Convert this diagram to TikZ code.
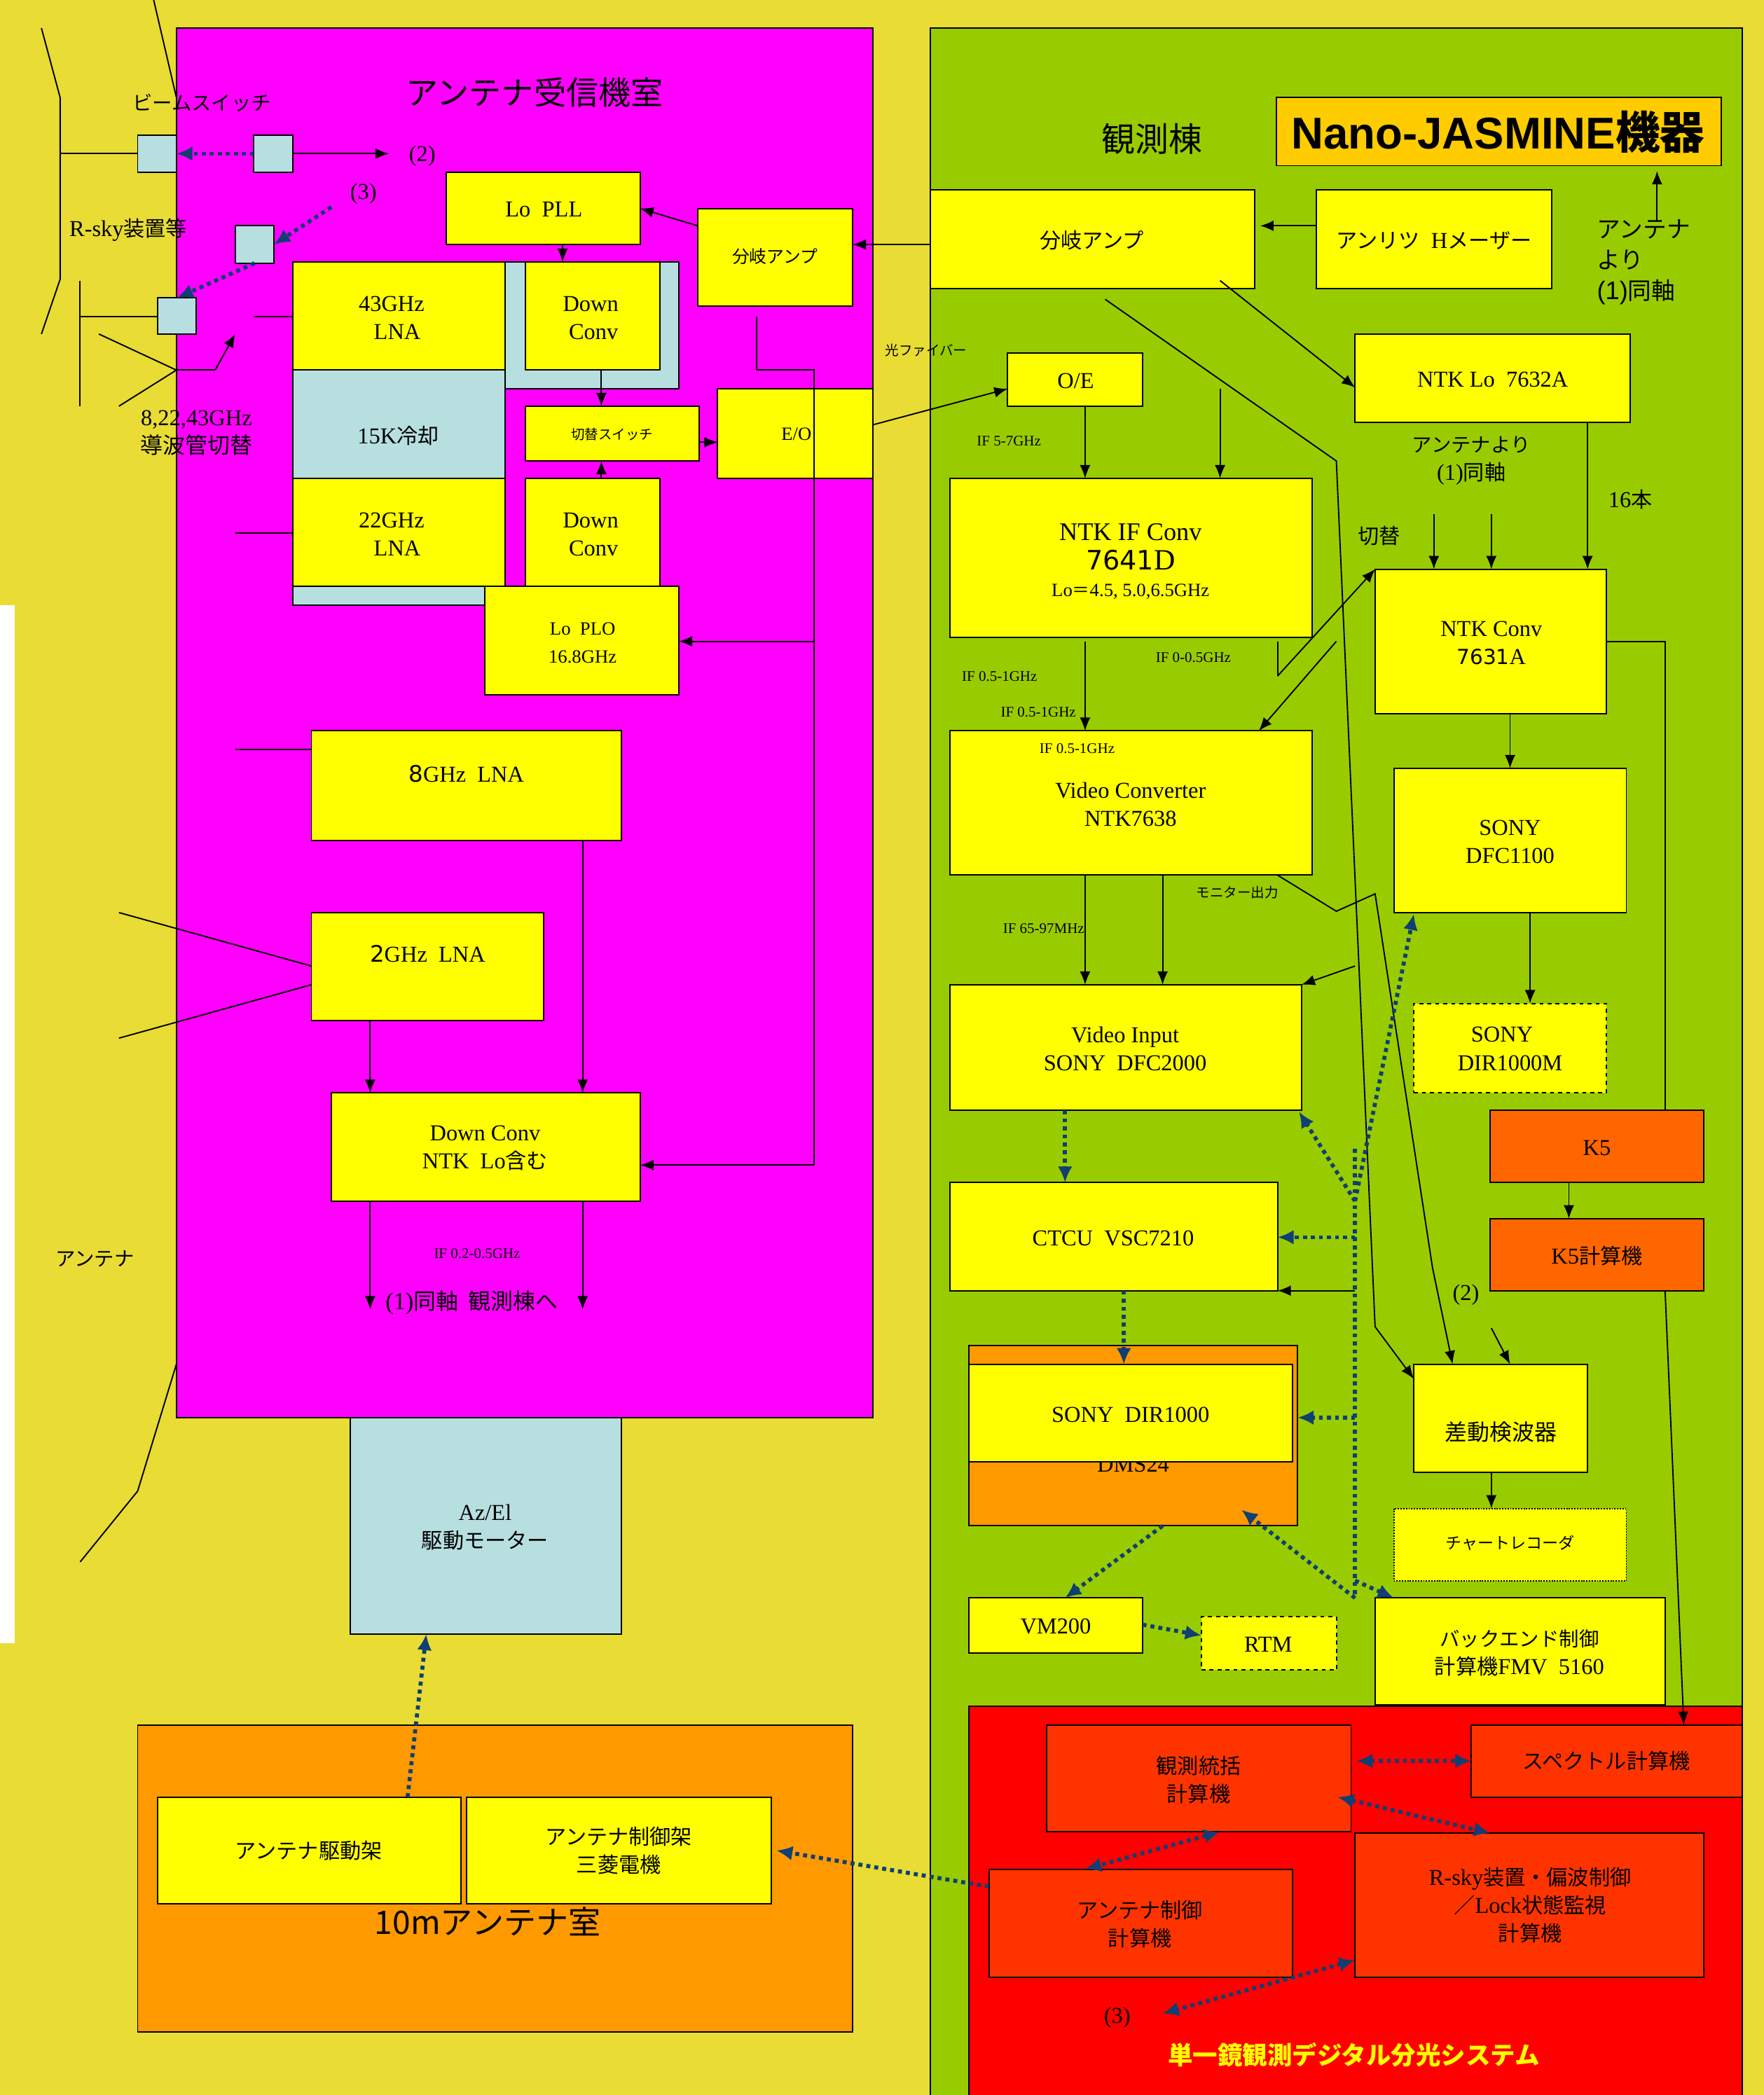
\documentclass[tikz,border=0pt]{standalone}
\usepackage{fontspec}
\usetikzlibrary{arrows.meta}
\setmainfont{Liberation Serif}
\setsansfont{Liberation Sans}
\newfontfamily\cjk[Scale=0.93]{Noto Sans CJK JP}
\newfontfamily\cjkfull{Noto Sans CJK JP}
\newfontfamily\dg{DejaVu Sans}
\newcommand\J[1]{{\cjk #1}}
\definecolor{bgy}{HTML}{E8DC35}
\definecolor{roomm}{HTML}{FF00FF}
\definecolor{roomg}{HTML}{99CC00}
\definecolor{yel}{HTML}{FFFF00}
\definecolor{ltb}{HTML}{B8DFE0}
\definecolor{org}{HTML}{FF9900}
\definecolor{nano}{HTML}{FFCC00}
\definecolor{k5c}{HTML}{FF6600}
\definecolor{redbg}{HTML}{FF0000}
\definecolor{redbx}{HTML}{FF3300}
\definecolor{dotb}{HTML}{0F3F73}
\newcommand\fs[2]{\fontsize{#1}{#2}\selectfont}
\tikzset{
 x=1pt,y=-1pt,
 box/.style={draw=black,line width=1pt,fill=yel,rectangle,inner sep=0pt,outer sep=0pt},
 txt/.style={inner sep=0pt,outer sep=0pt,align=center,font=\fs{17}{21}},
 small/.style={txt,font=\fs{11}{13}},
 conn/.style={draw=black,line width=1pt},
 arr/.style={conn,-{Latex[length=10pt,width=8pt]}},
 dots/.style={draw=dotb,line width=3pt,dash pattern=on 3pt off 3pt},
 dar/.style={dots,-{Latex[length=12pt,width=11pt,fill=dotb]}},
 ddar/.style={dots,{Latex[length=12pt,width=11pt,fill=dotb]}-{Latex[length=12pt,width=11pt,fill=dotb]}},
}
% box: [opts]{name}{x1}{y1}{x2}{y2}{text x}{text y}{text}
\newcommand\bx[9][]{%
 \node[box,#1,anchor=north west,minimum width={(#5-#3)*1pt},minimum height={(#6-#4)*1pt}] (#2) at (#3,#4) {};
 \node[txt] (#2-t) at (#7,#8) {#9};}
\newcommand\nb[6][]{%
 \node[box,#1,anchor=north west,minimum width={(#5-#3)*1pt},minimum height={(#6-#4)*1pt}] (#2) at (#3,#4) {};}
\newcommand\lb[5][txt]{\node[#1] (#2) at (#3,#4) {#5};}
% vertical connector at x between a.south and b.north
\newcommand\vc[4][arr]{\draw[#1] (#2.south -| #4,0) -- (#3.north -| #4,0);}
\begin{document}
\begin{tikzpicture}
\useasboundingbox (0,0) rectangle (1320,1568);
\fill[bgy] (0,0) rectangle (1320,1568);
\fill[white] (0,453) rectangle (11,1230);

% rooms
\nb[fill=roomm]{rx}{132}{21}{653}{1061}
\nb[fill=roomg]{obs}{696}{21}{1304}{1572}
\nb[fill=redbg]{dsp}{725}{1277}{1304}{1572}
\nb[fill=org]{r10}{103}{1291}{638}{1521}

% antenna outline
\draw[conn] (115,0) -- (132,73);
\draw[conn] (31,21) -- (45,73) -- (45,209) -- (31,250);
\draw[conn] (45,115) -- (103,115);
\draw[conn] (60,210) -- (60,304);
\draw[conn] (60,237) -- (118,237);
\draw[conn] (74,250) -- (132,277) -- (89,304);
\draw[conn] (132,1021) -- (103,1116) -- (60,1169);

\lb{t-title}{400}{69}{\fs{26}{30}\J{アンテナ受信機室}}
\lb{t-beam}{151}{77}{\fs{16}{18}\J{ビームスイッチ}}
\lb{t-rsky}{96}{172}{\fs{17}{20}R-sky\J{装置等}}
\lb{t-wg}{147}{324}{8,22,43GHz\\\fs{18}{21}\J{導波管切替}}
\lb{t-ant}{71}{942}{\fs{16}{18}\J{アンテナ}}
\lb{t-2a}{316}{117}{(2)}
\lb{t-3a}{272}{145}{(3)}

% beam switches
\nb[fill=ltb]{bs1}{103}{101}{132}{129}
\nb[fill=ltb]{bs2}{190}{101}{219}{129}
\nb[fill=ltb]{bs3}{176}{169}{205}{197}
\nb[fill=ltb]{bs4}{118}{223}{147}{250}

% cooled zone
\nb[fill=ltb]{cool}{219}{196}{378}{453}
\nb[fill=ltb]{coolb}{378}{196}{508}{291}
\bx[fill=ltb]{k15}{219}{277}{378}{358}{298}{326}{15K\J{冷却}}
\bx{lna43}{219}{196}{378}{277}{293}{238}{43GHz\\\ \ LNA}
\bx{lna22}{219}{358}{378}{439}{293}{400}{22GHz\\\ \ LNA}
\bx{dc1}{393}{196}{494}{277}{442}{238}{Down\\\ Conv}
\bx{dc2}{393}{358}{494}{439}{442}{400}{Down\\\ Conv}
\bx{lopll}{334}{129}{479}{183}{407}{157}{Lo\ \ PLL}
\bx{amp1}{522}{156}{638}{229}{580}{192}{\fs{14}{16}\J{分岐アンプ}}
\bx{sw}{393}{304}{523}{345}{458}{325}{\fs{11}{12}\J{切替スイッチ}}
\bx{eo}{537}{291}{653}{358}{596}{325}{\fs{14}{17}E/O}
\bx{plo}{363}{439}{508}{520}{436}{481}{\fs{14}{17}Lo\ \ PLO\\\fs{14}{17}16.8GHz}
\bx{lna8}{233}{547}{465}{629}{349}{579}{{\dg 8}GHz\ \ LNA}
\bx{lna2}{233}{683}{407}{764}{320}{714}{{\dg 2}GHz\ \ LNA}
\bx{dcn}{248}{818}{479}{899}{363}{859}{Down Conv\\NTK\ \ Lo\J{含む}}
\lb[small]{t-if02}{357}{938}{IF 0.2-0.5GHz}
\lb{t-to}{353}{975}{\fs{18}{20}(1)\J{同軸\ \ 観測棟へ}}
\bx[fill=ltb]{azel}{262}{1061}{465}{1223}{363}{1143}{Az/El\\\J{駆動モーター}}

% 10m room
\lb{t-10m}{365}{1438}{\fs{26}{28}\J{10mアンテナ室}}
\bx{drv}{118}{1345}{345}{1425}{231}{1385}{\J{アンテナ駆動架}}
\bx{ctl}{349}{1345}{577}{1425}{463}{1385}{\J{アンテナ制御架}\\\J{三菱電機}}

% observation building
\lb{t-obs}{862}{104}{\fs{27}{28}\J{観測棟}}
\bx[fill=nano]{nj}{955}{73}{1288}{124}{1121}{99}{\fs{33.3}{40}\sffamily\bfseries Nano-JASMINE{\cjkfull\bfseries 機器}}
\bx{amp2}{696}{142}{939}{216}{817}{180}{\J{分岐アンプ}}
\bx{hm}{985}{142}{1161}{216}{1073}{180}{\J{アンリツ}\ \ H\J{メーザー}}
\node[txt,align=left,font=\fs{19}{23}] (t-ant3) at (1230,196) {\J{アンテナ}\\\J{より}\\\sffamily(1)\J{同軸}};
\lb[small]{t-fib}{693}{262}{\J{光ファイバー}}
\bx{oe}{754}{264}{855}{304}{805}{285}{O/E}
\bx{lo32}{1014}{250}{1220}{316}{1117}{284}{NTK Lo\ \ 7632A}
\lb[small]{t-if5}{755}{330}{IF 5-7GHz}
\lb{t-ant2}{1101}{345}{\fs{16}{21}\J{アンテナより}\\(1)\J{同軸}}
\lb{t-16}{1220}{374}{16\J{本}}
\lb{t-sw}{1032}{401}{\J{切替}}
\bx{ifc}{711}{358}{982}{477}{846}{420}{\fs{19}{23}NTK IF Conv\\[1pt]{\dg\fs{20}{23}7641}\fs{22}{23}D\hspace*{12pt}\\[-1pt]\fs{14}{17}Lo\J{＝}4.5, 5.0,6.5GHz}
\bx{c31}{1029}{426}{1202}{534}{1116}{481}{NTK Conv\\{\dg\fs{15.5}{21}7631}A}
\lb[small]{t-if051}{748}{506}{IF 0.5-1GHz}
\lb[small]{t-if052}{777}{533}{IF 0.5-1GHz}
\lb[small]{t-if00}{893}{492}{IF 0-0.5GHz}
\bx{vc}{711}{547}{982}{655}{846}{602}{Video Converter\\NTK7638}
\lb[small]{t-if053}{806}{560}{IF 0.5-1GHz}
\bx{dfc}{1043}{575}{1217}{683}{1130}{630}{SONY\\DFC1100}
\lb[small]{t-mon}{926}{668}{\J{モニター出力}}
\lb[small]{t-if65}{781}{695}{IF 65-97MHz}
\bx{vi}{711}{737}{974}{831}{842}{785}{Video Input\\SONY\ \ DFC2000}
\bx[dashed]{dirm}{1058}{751}{1202}{818}{1130}{785}{SONY\hspace*{12pt}\\DIR1000M}
\bx[fill=k5c]{k5}{1115}{831}{1275}{885}{1195}{859}{K5}
\bx[fill=k5c]{k5c}{1115}{912}{1275}{966}{1195}{940}{K5\J{計算機}}
\bx{ctcu}{711}{885}{956}{966}{833}{927}{CTCU\ \ VSC7210}
\lb{t-2b}{1097}{969}{(2)}
\nb[fill=org]{dms}{725}{1007}{971}{1142}
\lb{t-dms}{848}{1096}{DMS24}
\bx{dir}{725}{1021}{967}{1094}{846}{1059}{SONY\ \ DIR1000}
\bx{sad}{1058}{1021}{1188}{1102}{1123}{1072}{\fs{18}{21}\J{差動検波器}}
\bx[densely dotted]{chart}{1043}{1129}{1217}{1183}{1130}{1155}{\fs{13}{16}\J{チャートレコーダ}}
\bx{vm}{725}{1196}{855}{1237}{790}{1217}{VM200}
\bx[dashed]{rtm}{899}{1210}{1000}{1250}{949}{1231}{RTM}
\bx{be}{1029}{1196}{1246}{1276}{1137}{1237}{\fs{16}{21}\J{バックエンド制御}\\\J{計算機}FMV\ \ 5160}
\bx[fill=redbx]{ctr}{783}{1291}{1011}{1371}{897}{1332}{\J{観測統括}\\\J{計算機}}
\bx[fill=redbx]{spc}{1101}{1291}{1304}{1345}{1202}{1318}{\J{スペクトル計算機}}
\bx[fill=redbx]{actl}{740}{1399}{967}{1480}{853}{1440}{\J{アンテナ制御}\\\J{計算機}}
\bx[fill=redbx]{rs}{1014}{1372}{1275}{1480}{1145}{1426}{R-sky\J{装置・偏波制御}\\\J{／}Lock\J{状態監視}\\\J{計算機}}
\lb{t-3b}{836}{1510}{(3)}
\lb{t-sys}{1013}{1538}{\fs{20}{24}\color{yel}{\cjk\bfseries 単一鏡観測デジタル分光システム}}

% free connector ends
\coordinate (ep2) at (291,115);
\coordinate (ep3) at (248,155);
\coordinate (wgup) at (176,250);
\coordinate (wgj) at (132,277);
\coordinate (wgk) at (161,277);
\coordinate (in43) at (190,237);
\coordinate (in22) at (176,399);
\coordinate (in8) at (176,561);
\coordinate (h1) at (89,683);
\coordinate (h2) at (89,777);
\coordinate (amp1a) at (566,237);
\coordinate (amp1b) at (566,277);
\coordinate (trunktop) at (609,277);
\coordinate (trunkplo) at (609,480);
\coordinate (trunkdc) at (609,872);
\coordinate (out1) at (277,980);
\coordinate (out2) at (436,980);

% solid connectors: antenna room
\draw[arr] (bs2.east) -- (ep2);
\draw[conn] (wgj) -- (wgk); \draw[arr] (wgk) -- (wgup);
\draw[conn] (in43) -- (lna43.west |- in43);
\draw[conn] (in22) -- (lna22.west |- in22);
\draw[conn] (in8) -- (lna8.west |- in8);
\draw[conn] (h1) -- (lna2.west |- 0,723);
\draw[conn] (h2) -- (lna2.west |- 0,737);
\draw[arr] (amp1.west |- 0,169) -- (lopll.east |- 0,156);
\vc{lopll}{dc1}{421}
\vc{dc1}{sw}{450}
\draw[arr] (dc2.north -| 450,0) -- (sw.south -| 450,0);
\draw[arr] (sw.east |- 0,331) -- (eo.west |- 0,331);
\draw[arr] (amp2.west |- 0,183) -- (amp1.east |- 0,183);
\draw[conn] (amp1a) -- (amp1b) -- (trunktop) -- (trunkdc);
\draw[arr] (trunkplo) -- (plo.east |- trunkplo);
\draw[arr] (trunkdc) -- (dcn.east |- trunkdc);
\draw[arr] (eo.east |- 0,318) -- (oe.west |- 0,291);
\vc{lna8}{dcn}{436}
\vc{lna2}{dcn}{277}
\draw[arr] (dcn.south -| out1) -- (out1);
\draw[arr] (dcn.south -| out2) -- (out2);

% solid connectors: observation building
\coordinate (njin) at (1240,165);
\coordinate (njout) at (1240,128);
\draw[arr] (njin) -- (njout);
\coordinate (hmend) at (943,169);
\draw[arr] (hm.west |- hmend) -- (hmend);
\coordinate (loS) at (913,210);
\draw[arr] (loS) -- (lo32.west |- 0,290);
\coordinate (a) at (827,224); \coordinate (b) at (1000,345); \coordinate (c) at (1029,993);
\draw[conn] (a) -- (b) -- (c); \draw[arr] (c) -- (sad.west |- 0,1032);
\vc{oe}{ifc}{812}
\coordinate (ifb) at (913,291);
\draw[arr] (ifb) -- (ifc.north -| ifb);
\draw[arr] (lo32.south -| 1188,0) -- (c31.north -| 1188,0);
\coordinate (s1) at (1073,385); \coordinate (s2) at (1116,385);
\draw[arr] (s1) -- (c31.north -| s1);
\draw[arr] (s2) -- (c31.north -| s2);
\coordinate (i1) at (956,480); \coordinate (i2) at (956,506);
\draw[conn] (i1) -- (i2); \draw[arr] (i2) -- (c31.north west);
\coordinate (v1) at (1000,480);
\draw[arr] (v1) -- (vc.north -| 942,0);
\coordinate (i3) at (812,480);
\draw[arr] (i3) -- (vc.north -| i3);
\draw[conn] (c31.east |- 0,480) -- (1246,480) -- (k5.north -| 1246,0);
\draw[arr] (k5c.south -| 1246,0) -- (spc.north -| 1260,0);
\vc{k5}{k5c}{1174}
\vc{c31}{dfc}{1130}
\draw[arr] (dfc.south -| 1145,0) -- (dirm.north -| 1145,0);
\vc{vc}{vi}{812}
\vc{vc}{vi}{870}
\coordinate (m1) at (956,655); \coordinate (m2) at (1000,682); \coordinate (m3) at (1029,669); \coordinate (m4) at (1072,949);
\draw[conn] (m1) -- (m2) -- (m3) -- (m4); \draw[arr] (m4) -- (sad.north -| 1087,0);
\coordinate (vi2) at (1014,723);
\draw[arr] (vi2) -- (vi.north east);
\coordinate (ct2) at (1014,966);
\draw[arr] (ct2) -- (ctcu.east |- ct2);
\coordinate (sd2) at (1116,994);
\draw[arr] (sd2) -- (sad.north -| 1130,0);
\vc{sad}{chart}{1116}

% dotted control links
\coordinate (ctlhead) at (581,1385);
\coordinate (ctrr) at (1015,1318);
\coordinate (ctrd) at (1001,1345);
\coordinate (vihead) at (972,832);
\coordinate (dfchead) at (1058,684);
\coordinate (dmshead) at (929,1130);
\draw[dar] (bs2.west) -- (bs1.east);
\draw[dar] (ep3) -- (bs3.east);
\draw[dar] (bs3.south) -- (bs4.north);
\coordinate (bus1) at (1014,860); \coordinate (bus2) at (1014,1196);
\coordinate (busa) at (1014,899); \coordinate (busb) at (1014,926);
\coordinate (busc) at (1014,1061); \coordinate (busd) at (1014,1183);
\draw[dots] (bus1) -- (bus2);
\draw[dar] (vi.south -| 797,0) -- (ctcu.north -| 797,0);
\draw[dar] (ctcu.south -| 841,0) -- (dir.north -| 841,0);
\draw[dar] (busa) -- (vihead);
\draw[dar] (busa) -- (dfchead);
\draw[dar] (busb) -- (ctcu.east |- busb);
\draw[dar] (busc) -- (dms.east |- busc);
\draw[dar] (bus2) -- (dmshead);
\draw[dar] (busd) -- (be.north -| 1043,0);
\draw[dar] (dms.south -| 870,0) -- (vm.north -| 797,0);
\draw[dar] (vm.east |- 0,1216) -- (rtm.west |- 0,1224);
\draw[ddar] (ctrr) -- (spc.west |- ctrr);
\draw[ddar] (ctrd) -- (rs.north -| 1115,0);
\draw[ddar] (ctr.south -| 913,0) -- (actl.north -| 812,0);
\coordinate (e3) at (870,1507);
\draw[ddar] (rs.west |- 0,1467) -- (e3);
\draw[dar] (actl.west |- 0,1412) -- (ctlhead);
\draw[dar] (drv.north -| 305,0) -- (azel.south -| 319,0);
\end{tikzpicture}
\end{document}
